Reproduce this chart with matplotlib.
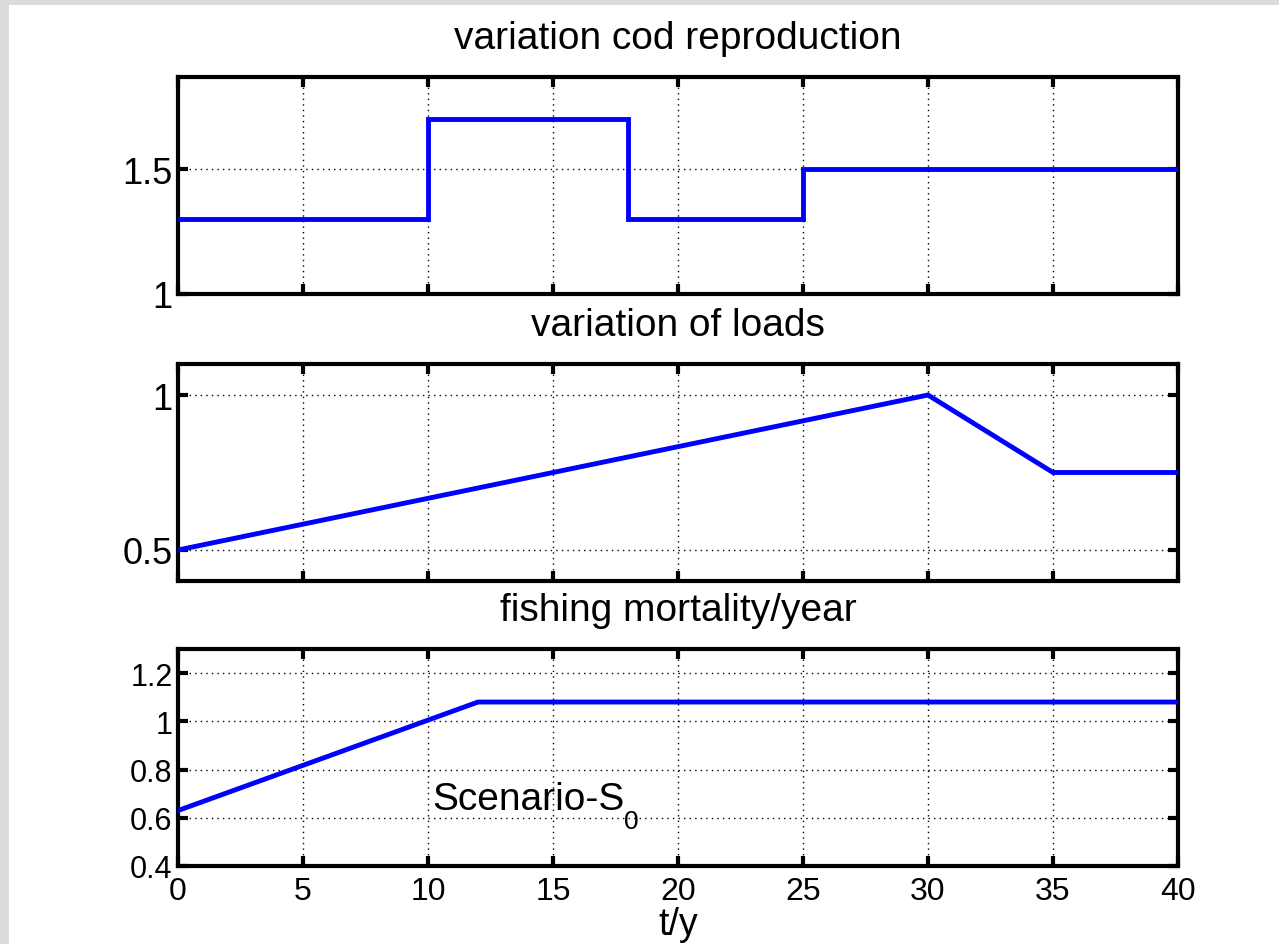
import matplotlib
matplotlib.use("Agg")
import matplotlib.pyplot as plt
from matplotlib.patches import Rectangle

plt.rcParams['font.family'] = ['Liberation Sans', 'DejaVu Sans']

# Data
t_cod = [0, 10, 10, 18, 18, 25, 25, 40]
cod = [1.3, 1.3, 1.7, 1.7, 1.3, 1.3, 1.5, 1.5]
t_load = [0, 30, 35, 40]
loads = [0.5, 1.0, 0.75, 0.75]
t_fish = [0, 12, 40]
fish = [0.63, 1.08, 1.08]

titles = ["variation cod reproduction", "variation of loads", "fishing mortality/year"]
xticks = [0, 5, 10, 15, 20, 25, 30, 35, 40]
yticks_list = [[1, 1.5], [0.5, 1], [0.4, 0.6, 0.8, 1, 1.2]]
ytick_labels = [["1", "1.5"], ["0.5", "1"], ["0.4", "0.6", "0.8", "1", "1.2"]]
ylims = [(1, 1.87), (0.4, 1.1), (0.4, 1.3)]
ytick_fs = [26, 26, 22]

W, H = 1279, 945
fig = plt.figure(figsize=(W / 100, H / 100), dpi=100)
fig.patch.set_facecolor('white')
# light gray frame strips (top and left)
fig.add_artist(Rectangle((0, 1 - 6 / H), 1, 6 / H, transform=fig.transFigure,
                         facecolor='#dcdcdc', edgecolor='none'))
fig.add_artist(Rectangle((0, 0), 9 / W, 1, transform=fig.transFigure,
                         facecolor='#dcdcdc', edgecolor='none'))

left, right = 178, 1178
boxes = [(78, 295), (365, 582), (650, 867)]
series = [(t_cod, cod), (t_load, loads), (t_fish, fish)]

title_fs = 28
for i, ((top, bot), (xs, ys)) in enumerate(zip(boxes, series)):
    ax = fig.add_axes([left / W, (H - bot) / H, (right - left) / W, (bot - top) / H])
    ax.plot(xs, ys, color=(0, 0, 1), lw=3.5, solid_joinstyle='miter', zorder=3)
    ax.set_xlim(0, 40)
    ax.set_ylim(*ylims[i])
    ax.set_xticks(xticks)
    ax.set_yticks(yticks_list[i])
    ax.set_yticklabels(ytick_labels[i])
    ax.grid(True, color='black', linestyle=(0, (1, 3)), linewidth=1.0)
    ax.tick_params(direction='in', length=7, width=3, top=True, right=True)
    ax.tick_params(axis='y', labelsize=ytick_fs[i], pad=4)
    ax.tick_params(axis='x', labelsize=23, pad=7)
    for s in ax.spines.values():
        s.set_linewidth(3)
    ax.set_title(titles[i], fontsize=title_fs, pad=21)
    if i < 2:
        ax.tick_params(labelbottom=False)
    else:
        ax.set_xlabel("t/y", fontsize=27, labelpad=0)
        t1 = ax.text(10.16, 0.635, "Scenario-S", fontsize=title_fs, ha='left', va='baseline')
        ax.annotate("0", xy=(1, 0), xycoords=t1, xytext=(0, 6), textcoords='offset points',
                    fontsize=19, ha='left', va='top')

fig.savefig("out.png", dpi=100, facecolor=fig.get_facecolor())
